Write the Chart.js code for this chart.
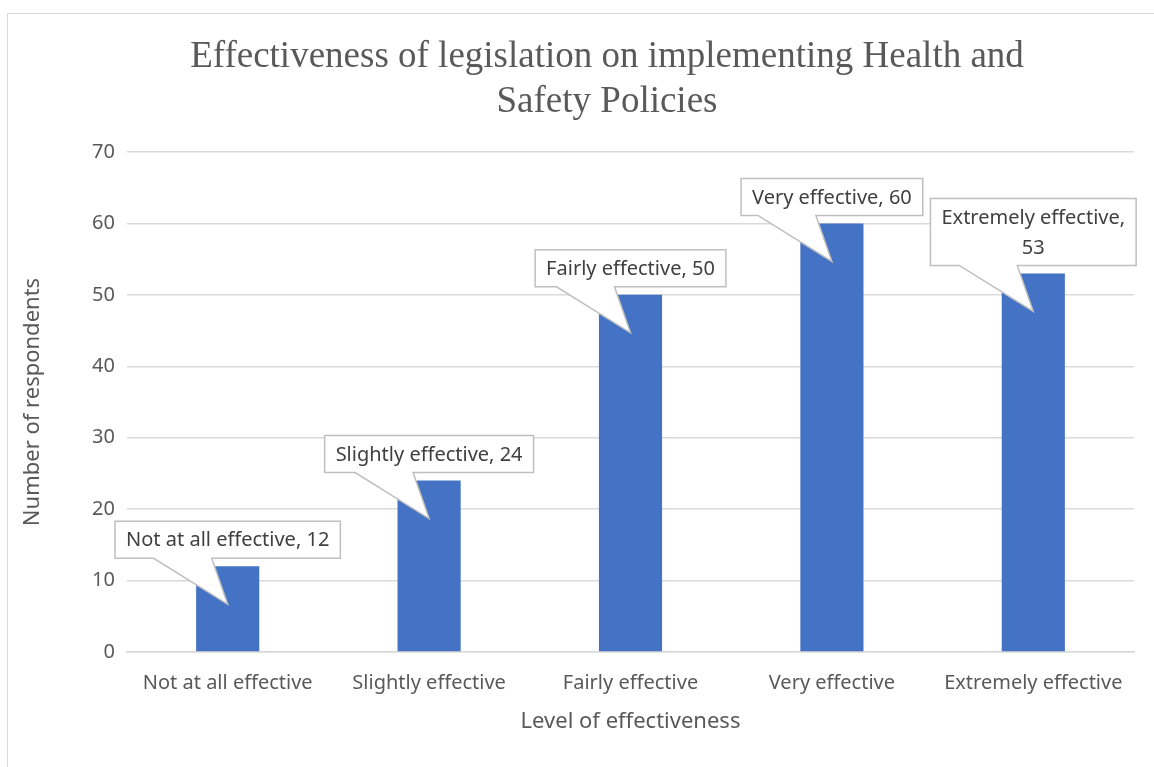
<!DOCTYPE html>
<html>
<head>
<meta charset="utf-8">
<script src="https://cdn.jsdelivr.net/npm/chart.js@4"></script>
<style>
  html, body { margin: 0; padding: 0; background: #fff; }
  #wrap { width: 1154px; height: 767px; }
</style>
</head>
<body>
<div id="wrap"><canvas id="bar"></canvas></div>
<script>
const titleLines = ["Effectiveness of legislation on implementing Health and", "Safety Policies"];
const categories = [
  "Not at all effective",
  "Slightly effective",
  "Fairly effective",
  "Very effective",
  "Extremely effective",
];
const respondents = [12, 24, 50, 60, 53];
const xTitle = "Level of effectiveness";
const yTitle = "Number of respondents";

const textGray = "#595959";
const gridGray = "#d9d9d9";
const sans = '"Noto Sans", "Open Sans", sans-serif';

// Excel style frame + serif title
const frameAndTitle = {
  id: "frameAndTitle",
  beforeDraw(chart) {
    const ctx = chart.ctx;
    ctx.save();
    ctx.fillStyle = "#fff";
    ctx.fillRect(0, 0, chart.width, chart.height);
    ctx.strokeStyle = gridGray;
    ctx.lineWidth = 1;
    ctx.strokeRect(7.5, 13.5, chart.width + 20, chart.height + 20);
    ctx.fillStyle = textGray;
    ctx.font = '37px "Liberation Serif", "Times New Roman", serif';
    ctx.textAlign = "center";
    ctx.textBaseline = "alphabetic";
    titleLines.forEach((line, i) => {
      ctx.fillText(line, 607, 67 + i * 45);
    });
    ctx.restore();
  },
};

// callout data labels "Category, value"
const callouts = {
  id: "callouts",
  afterDatasetsDraw(chart) {
    const ctx = chart.ctx;
    const meta = chart.getDatasetMeta(0);
    const area = chart.chartArea;
    ctx.save();
    ctx.font = "20px " + sans;
    ctx.textAlign = "center";
    ctx.textBaseline = "middle";
    meta.data.forEach((bar, i) => {
      const full = categories[i] + ", " + respondents[i];
      let lines = [full];
      const padX = 11, lineH = 30;
      if (bar.x + ctx.measureText(full).width / 2 + padX > area.right) {
        lines = [categories[i] + ",", String(respondents[i])];
      }
      const w = Math.max(...lines.map((l) => ctx.measureText(l).width)) + padX * 2;
      const h = lines.length * lineH + 7;
      const cx = bar.x;
      const tipY = bar.y + 38;
      const bottom = bar.y - 8;
      const top = bottom - h;
      const left = cx - w / 2, right = cx + w / 2;
      ctx.beginPath();
      ctx.moveTo(left, top);
      ctx.lineTo(right, top);
      ctx.lineTo(right, bottom);
      ctx.lineTo(cx - 16, bottom);
      ctx.lineTo(cx, tipY);
      ctx.lineTo(cx - 74, bottom);
      ctx.lineTo(left, bottom);
      ctx.closePath();
      ctx.fillStyle = "#fff";
      ctx.fill();
      ctx.strokeStyle = "#bfbfbf";
      ctx.lineWidth = 1.5;
      ctx.stroke();
      ctx.fillStyle = "#404040";
      lines.forEach((l, j) => {
        ctx.fillText(l, cx, top + 3.5 + lineH * (j + 0.5) + 1);
      });
    });
    ctx.restore();
  },
};

new Chart(document.querySelector("#bar"), {
  type: "bar",
  data: {
    labels: categories,
    datasets: [
      {
        label: yTitle,
        data: respondents,
        backgroundColor: "#4472c4",
        barPercentage: 0.3135,
        categoryPercentage: 1,
      },
    ],
  },
  options: {
    responsive: true,
    maintainAspectRatio: false,
    animation: false,
    layout: { padding: { top: 152, right: 20, left: 0, bottom: 0 } },
    plugins: {
      legend: { display: false },
      tooltip: { enabled: false },
    },
    scales: {
      x: {
        grid: { display: false, drawTicks: false },
        border: { display: true, color: gridGray, width: 1.5 },
        ticks: {
          color: textGray,
          font: { family: sans, size: 20 },
          padding: 19,
          maxRotation: 0,
        },
        title: {
          display: true,
          text: xTitle,
          color: textGray,
          font: { family: sans, size: 22 },
          padding: { top: 0, bottom: 32 },
        },
        afterFit(scale) {
          scale.height = 115;
        },
      },
      y: {
        min: 0,
        max: 70,
        grid: { color: gridGray, lineWidth: 1.5, drawTicks: false },
        border: { display: false },
        ticks: {
          stepSize: 10,
          color: textGray,
          font: { family: sans, size: 20 },
          padding: 12,
        },
        title: {
          display: true,
          text: yTitle,
          color: textGray,
          font: { family: sans, size: 22 },
          padding: { top: 20, bottom: 0 },
        },
        afterFit(scale) {
          scale.width = 127;
        },
      },
    },
  },
  plugins: [frameAndTitle, callouts],
});
</script>
</body>
</html>
